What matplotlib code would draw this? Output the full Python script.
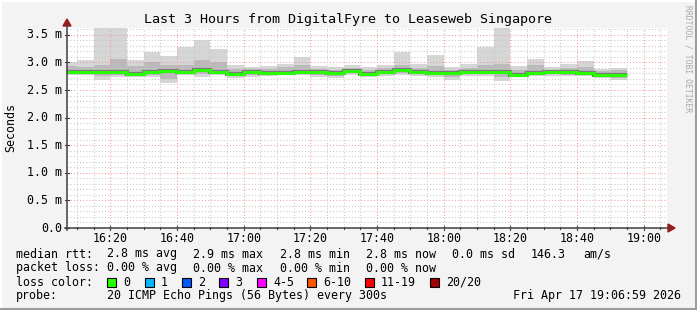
import matplotlib
matplotlib.use('Agg')
import matplotlib.pyplot as plt
from matplotlib.lines import Line2D
from matplotlib.patches import Rectangle, Polygon
import numpy as np

# ---------------- data ----------------
title = "Last 3 Hours from DigitalFyre to Leaseweb Singapore"
# graph window (minutes after 16:00): 16:06:59 -> 19:06:59
start_min = 6 + 59 / 60
# end of each 5-minute RRD step (minutes after 16:00); first bin is partial
bin_end_min = [10, 15, 20, 25, 30, 35, 40, 45, 50, 55, 60, 65, 70, 75, 80, 85, 90,
               95, 100, 105, 110, 115, 120, 125, 130, 135, 140, 145, 150, 155, 160,
               165, 170, 175]
# median RTT per step (ms)
median_ms = [2.82, 2.82, 2.83, 2.83, 2.79, 2.82, 2.84, 2.82, 2.86, 2.83, 2.79, 2.82,
             2.81, 2.81, 2.83, 2.82, 2.81, 2.84, 2.79, 2.83, 2.86, 2.82, 2.81, 2.80,
             2.82, 2.82, 2.82, 2.77, 2.81, 2.82, 2.82, 2.81, 2.78, 2.77]
# smoke extent (min / max ping)
smoke_lo = [2.77, 2.77, 2.68, 2.74, 2.74, 2.74, 2.63, 2.77, 2.74, 2.77, 2.72, 2.74,
            2.75, 2.77, 2.77, 2.74, 2.71, 2.77, 2.74, 2.76, 2.77, 2.76, 2.74, 2.68,
            2.76, 2.76, 2.67, 2.74, 2.75, 2.76, 2.75, 2.75, 2.71, 2.68]
smoke_hi = [3.00, 3.04, 3.64, 3.64, 3.04, 3.18, 3.12, 3.28, 3.41, 3.25, 2.96, 2.92,
            2.93, 2.98, 3.09, 2.94, 2.92, 2.96, 2.92, 2.95, 3.18, 2.97, 3.14, 2.92,
            2.98, 3.27, 3.64, 2.93, 3.07, 2.91, 2.97, 3.02, 2.88, 2.90]
# denser inner part of the smoke
inner_lo = [2.79, 2.79, 2.76, 2.78, 2.76, 2.78, 2.70, 2.79, 2.79, 2.79, 2.75, 2.78,
            2.78, 2.79, 2.79, 2.78, 2.76, 2.80, 2.76, 2.79, 2.80, 2.79, 2.77, 2.73,
            2.79, 2.79, 2.74, 2.75, 2.78, 2.79, 2.78, 2.78, 2.74, 2.72]
inner_hi = [2.93, 2.92, 2.95, 3.07, 2.93, 3.00, 2.95, 2.95, 3.05, 3.00, 2.88, 2.88,
            2.88, 2.92, 2.95, 2.88, 2.87, 2.90, 2.86, 2.89, 2.95, 2.90, 2.93, 2.86,
            2.90, 2.95, 2.98, 2.86, 2.96, 2.87, 2.90, 2.92, 2.84, 2.86]

x_tick_min = [20, 40, 60, 80, 100, 120, 140, 160, 180]
x_tick_labels = ["16:20", "16:40", "17:00", "17:20", "17:40", "18:00", "18:20", "18:40", "19:00"]
y_ticks = [0.0, 0.5, 1.0, 1.5, 2.0, 2.5, 3.0, 3.5]
y_tick_labels = ["0.0", "0.5 m", "1.0 m", "1.5 m", "2.0 m", "2.5 m", "3.0 m", "3.5 m"]

rtt_values = ["2.8 ms avg", "2.9 ms max", "2.8 ms min", "2.8 ms now", "0.0 ms sd", "146.3", "am/s"]
loss_values = ["0.00 % avg", "0.00 % max", "0.00 % min", "0.00 % now"]
loss_labels = ["0", "1", "2", "3", "4-5", "6-10", "11-19", "20/20"]
loss_colors = ["#26ff00", "#00b8ff", "#0059ff", "#7e00ff", "#ff00ff", "#ff5500", "#ff0000", "#a10000"]
probe_text = "20 ICMP Echo Pings (56 Bytes) every 300s"
stamp_text = "Fri Apr 17 19:06:59 2026"

# ---------------- layout ----------------
W, H = 697, 310
MONO = "DejaVu Sans Mono"
FS = 8.4

def fx(x):
    return x / W

def fy(y):
    return 1 - y / H

fig = plt.figure(figsize=(W / 100, H / 100), dpi=100, facecolor="#f3f3f3")
L, R, T, B = 67, 667, 28, 228
ax = fig.add_axes([fx(L), fy(B), (R - L) / W, (B - T) / H])
ax.set_facecolor("white")
ymax = (B - T) / 55.2
ax.set_xlim(start_min, start_min + 180)
ax.set_ylim(0, ymax)
for s in ax.spines.values():
    s.set_visible(False)
ax.set_xticks([])
ax.set_yticks([])

edges = np.array([start_min] + bin_end_min, dtype=float)
ax.stairs(smoke_hi, edges, baseline=smoke_lo, fill=True, color="#d6d6d6", zorder=1, linewidth=0)
ax.stairs(inner_hi, edges, baseline=inner_lo, fill=True, color="#bababa", zorder=2, linewidth=0)

# grid (drawn over smoke)
minor_y = np.arange(0.1, ymax, 0.1)
for v in minor_y:
    if abs(v / 0.5 - round(v / 0.5)) > 1e-6:
        ax.axhline(v, color="#c8c8c8", lw=0.75, ls=(0, (1, 2)), zorder=3)
for v in y_ticks[1:]:
    ax.axhline(v, color="#f29a9a", lw=0.75, ls=(0, (1, 2)), zorder=3)
for m in range(10, 190, 5):
    if m % 20 != 0:
        ax.axvline(m, color="#c8c8c8", lw=0.75, ls=(0, (1, 2)), zorder=3)
for m in x_tick_min:
    ax.axvline(m, color="#f29a9a", lw=0.75, ls=(0, (1, 2)), zorder=3)

ax.stairs(median_ms, edges, color="#7a7a7a", lw=3.0, zorder=4, baseline=None)
ax.stairs(median_ms, edges, color="#26ff00", lw=2.1, zorder=5, baseline=None)

# axes lines and arrows (figure pixel coords)
axis_col = "#404040"
arrow_col = "#a01818"
fig.add_artist(Line2D([fx(L), fx(L)], [fy(B + 2), fy(24)], color=axis_col, lw=1.1))
fig.add_artist(Line2D([fx(L - 2), fx(670)], [fy(B), fy(B)], color=axis_col, lw=1.1))
fig.add_artist(Polygon([[fx(L - 4), fy(26)], [fx(L + 4), fy(26)], [fx(L), fy(19)]],
                       closed=True, color=arrow_col, transform=fig.transFigure))
fig.add_artist(Polygon([[fx(668), fy(B - 4)], [fx(668), fy(B + 4)], [fx(675), fy(B)]],
                       closed=True, color=arrow_col, transform=fig.transFigure))

# ticks
def xpix(m):
    return L + (m - start_min) * (R - L) / 180.0

def ypix(v):
    return B - v * 55.2

for m in range(10, 190, 5):
    px = xpix(m)
    if m % 20 == 0:
        fig.add_artist(Line2D([fx(px), fx(px)], [fy(B - 2), fy(B + 2)], color=axis_col, lw=0.8))
    else:
        fig.add_artist(Line2D([fx(px), fx(px)], [fy(B - 1), fy(B + 1)], color=axis_col, lw=0.8))
for v in y_ticks:
    py = ypix(v)
    fig.add_artist(Line2D([fx(L - 2), fx(L + 2)], [fy(py), fy(py)], color=axis_col, lw=0.8))

for m, lab in zip(x_tick_min, x_tick_labels):
    fig.text(fx(xpix(m)), fy(238), lab, ha="center", va="center", family=MONO, fontsize=FS, color="#000000")
for v, lab in zip(y_ticks, y_tick_labels):
    fig.text(fx(62), fy(ypix(v)), lab, ha="right", va="center", family=MONO, fontsize=FS, color="#000000")

fig.text(fx(11), fy(128), "Seconds", rotation=90, ha="center", va="center", family=MONO, fontsize=FS)
fig.text(fx(348), fy(19), title, ha="center", va="center", family=MONO, fontsize=9.6)
fig.text(fx(688), fy(59), "RRDTOOL / TOBI OETIKER", rotation=270, ha="center", va="center",
         family=MONO, fontsize=5.8, color="#a8a8a8")

# legend / statistics
fig.text(fx(16), fy(254), "median rtt:", ha="left", va="center", family=MONO, fontsize=FS)
for xp, s in zip([107, 193, 280, 366, 452, 531, 583], rtt_values):
    fig.text(fx(xp), fy(254), s, ha="left", va="center", family=MONO, fontsize=FS)
fig.text(fx(16), fy(268), "packet loss:", ha="left", va="center", family=MONO, fontsize=FS)
for xp, s in zip([107, 193, 280, 366], loss_values):
    fig.text(fx(xp), fy(268), s, ha="left", va="center", family=MONO, fontsize=FS)
fig.text(fx(16), fy(282), "loss color:", ha="left", va="center", family=MONO, fontsize=FS)
for xp, lab, col in zip([107, 145, 182, 219, 257, 307, 365, 430], loss_labels, loss_colors):
    fig.add_artist(Rectangle((fx(xp), fy(287)), 9 / W, 9 / H, transform=fig.transFigure,
                             facecolor=col, edgecolor="#000000", lw=0.8))
    fig.text(fx(xp + 16), fy(282), lab, ha="left", va="center", family=MONO, fontsize=FS)
fig.text(fx(16), fy(296), "probe:", ha="left", va="center", family=MONO, fontsize=FS)
fig.text(fx(107), fy(296), probe_text, ha="left", va="center", family=MONO, fontsize=FS)
fig.text(fx(681), fy(296), stamp_text, ha="right", va="center", family=MONO, fontsize=FS)

# 3D frame
fig.add_artist(Line2D([0, 1], [fy(0.5), fy(0.5)], color="#ffffff", lw=1.5))
fig.add_artist(Line2D([fx(0.5), fx(0.5)], [0, 1], color="#ffffff", lw=1.5))
fig.add_artist(Line2D([0, 1], [fy(308.8), fy(308.8)], color="#9c9c9c", lw=2.2))
fig.add_artist(Line2D([fx(695.8), fx(695.8)], [0, 1], color="#9c9c9c", lw=2.2))

fig.savefig("out.png", dpi=100, facecolor=fig.get_facecolor())
